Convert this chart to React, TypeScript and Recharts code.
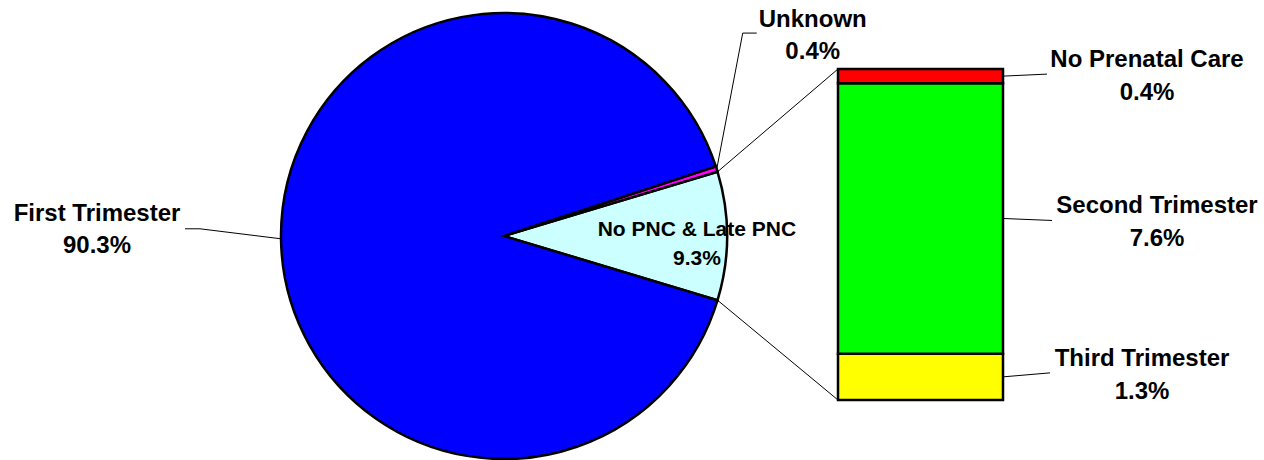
import React from 'react';
import { PieChart, Pie, Cell, BarChart, Bar, XAxis, YAxis, LabelList } from 'recharts';

// pie: the breakout slice comes first so it sits on the right, centred on 3 o'clock
const pieNames = ['No PNC & Late PNC', 'Unknown', 'First Trimester'];
const pieValues = [9.3, 0.4, 90.3];
const pieColors = ['#ccffff', '#ff00ff', '#0000ff'];

// breakout bar, bottom to top
const barKeys = ['third', 'second', 'none'];
const barNames = ['Third Trimester', 'Second Trimester', 'No Prenatal Care'];
const barValues = [1.3, 7.6, 0.4];
const barColors = ['#ffff00', '#00ff00', '#ff0000'];

const W = 1264;
const H = 460;
const CX = 504;
const CY = 236;
const R = 223;
const BAR_LEFT = 838;
const BAR_TOP = 69;
const BAR_W = 165;
const BAR_H = 331;
const PAD = 10;
const FONT = '"Liberation Sans", Arial, Helvetica, sans-serif';

const pieData = pieNames.map((name, i) => ({ name, value: pieValues[i] }));
const barRow: Record<string, any> = { name: 'PNC' };
barKeys.forEach((k, i) => (barRow[k] = barValues[i]));

const half = (pieValues[0] / pieValues.reduce((a, b) => a + b, 0)) * 180;

const RAD = Math.PI / 180;
const polar = (cx: number, cy: number, r: number, a: number) => ({
  x: cx + r * Math.cos(-a * RAD),
  y: cy + r * Math.sin(-a * RAD),
});

const pct = (v: number) => `${v.toFixed(1)}%`;

// two centred lines; y is the centre of the first line
const TwoLine = ({ x, y, a, b, size = 24, gap = 32 }: any) => (
  <text textAnchor="middle" fontFamily={FONT} fontWeight="bold" fontSize={size} fill="#000">
    <tspan x={x} y={y + size * 0.36}>{a}</tspan>
    <tspan x={x} y={y + gap + size * 0.36}>{b}</tspan>
  </text>
);

const pieLabel = (p: any) => {
  const { cx, cy, outerRadius, midAngle, startAngle, endAngle, index } = p;
  const edge = polar(cx, cy, outerRadius, midAngle);
  if (index === 0) {
    const top = polar(cx, cy, outerRadius, Math.max(startAngle, endAngle));
    const bot = polar(cx, cy, outerRadius, Math.min(startAngle, endAngle));
    const c = polar(cx, cy, outerRadius * 0.865, midAngle);
    return (
      <g>
        <line x1={top.x} y1={top.y} x2={BAR_LEFT} y2={BAR_TOP} stroke="#000" strokeWidth={1} />
        <line x1={bot.x} y1={bot.y} x2={BAR_LEFT} y2={BAR_TOP + BAR_H} stroke="#000" strokeWidth={1} />
        <TwoLine x={c.x} y={c.y - 8} a={pieNames[0]} b={pct(pieValues[0])} size={21} gap={29} />
      </g>
    );
  }
  if (index === 1) {
    const elbow = { x: edge.x + 26, y: edge.y - 136 };
    const end = { x: elbow.x + 14, y: elbow.y };
    return (
      <g>
        <polyline
          points={`${edge.x},${edge.y} ${elbow.x},${elbow.y} ${end.x},${end.y}`}
          fill="none"
          stroke="#000"
          strokeWidth={1}
        />
        <TwoLine x={end.x + 56} y={end.y - 15} a={pieNames[1]} b={pct(pieValues[1])} />
      </g>
    );
  }
  const elbow = { x: edge.x - 81, y: edge.y - 10 };
  const end = { x: elbow.x - 15, y: elbow.y };
  return (
    <g>
      <polyline
        points={`${edge.x},${edge.y} ${elbow.x},${elbow.y} ${end.x},${end.y}`}
        fill="none"
        stroke="#000"
        strokeWidth={1}
      />
      <TwoLine x={end.x - 88} y={end.y - 16} a={pieNames[2]} b={pct(pieValues[2])} />
    </g>
  );
};

// leader length / rise and text centre offset for each bar segment
const barLeader = [
  { len: 47, rise: -4, tx: 92 },
  { len: 49, rise: 2, tx: 105 },
  { len: 44, rise: -2, tx: 100 },
];

const barLabel = (i: number) => (p: any) => {
  const vb = p.viewBox || p;
  const x = Number(vb.x);
  const y = Number(vb.y);
  const w = Number(vb.width);
  const h = Number(vb.height);
  const x1 = x + w;
  const y1 = y + h / 2;
  const { len, rise, tx } = barLeader[i];
  const x2 = x1 + len;
  const y2 = y1 + rise;
  return (
    <g>
      <line x1={x1} y1={y1} x2={x2} y2={y2} stroke="#000" strokeWidth={1} />
      <TwoLine x={x2 + tx} y={y2 - 16} a={barNames[i]} b={pct(barValues[i])} gap={33} />
    </g>
  );
};

export default function App() {
  const barBoxW = W - (BAR_LEFT - PAD);
  return (
    <div style={{ position: 'absolute', left: 0, top: 0, width: W, height: H, background: '#fff' }}>
      <div style={{ position: 'absolute', left: 0, top: 0 }}>
        <PieChart width={W} height={H} margin={{ top: 0, right: 0, bottom: 0, left: 0 }}>
          <Pie
            data={pieData}
            dataKey="value"
            nameKey="name"
            cx={CX}
            cy={CY}
            outerRadius={R}
            startAngle={-half}
            endAngle={360 - half}
            stroke="#000"
            strokeWidth={2.5}
            label={pieLabel}
            labelLine={false}
            isAnimationActive={false}
          >
            {pieData.map((d, i) => (
              <Cell key={d.name} fill={pieColors[i]} />
            ))}
          </Pie>
        </PieChart>
      </div>
      <div style={{ position: 'absolute', left: BAR_LEFT - PAD, top: 0 }}>
        <BarChart
          width={barBoxW}
          height={H}
          data={[barRow]}
          margin={{ top: BAR_TOP, bottom: H - BAR_TOP - BAR_H, left: PAD, right: barBoxW - PAD - BAR_W }}
          barCategoryGap={0}
          barGap={0}
        >
          <XAxis dataKey="name" type="category" hide />
          <YAxis type="number" domain={[0, 'dataMax']} hide />
          {barKeys.map((k, i) => (
            <Bar
              key={k}
              dataKey={k}
              stackId="pnc"
              fill={barColors[i]}
              stroke="#000"
              strokeWidth={2.5}
              isAnimationActive={false}
            >
              <LabelList dataKey={k} content={barLabel(i)} />
            </Bar>
          ))}
        </BarChart>
      </div>
    </div>
  );
}
